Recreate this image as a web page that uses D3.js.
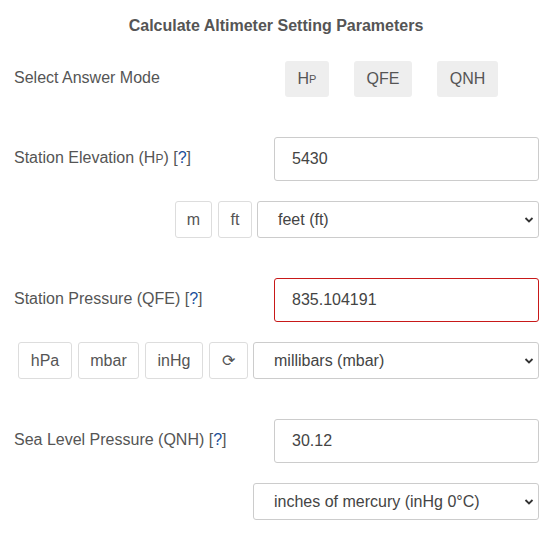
<!DOCTYPE html>
<html>
<head>
<meta charset="utf-8">
<script src="https://cdn.jsdelivr.net/npm/d3@7"></script>
<style>
  body { margin: 0; background: #fff; font-family: "Liberation Sans", Arial, sans-serif; }
  #form { position: relative; width: 552px; height: 538px; }
  .el { position: absolute; box-sizing: border-box; font-size: 16px; color: #555; }
  .lbl { white-space: nowrap; }
  .q { color: #1a4f9c; }
  .mode { background: #eeeeee; border-radius: 3px; display: flex; align-items: center; justify-content: center; }
  .btn { border: 1px solid #ddd; border-radius: 3px; display: flex; align-items: center; justify-content: center; background: #fff; }
  .inp { border: 1px solid #ccc; border-radius: 3px; padding-left: 17px; display: flex; align-items: center; color: #444; }
  .inp.err { border-color: #c81919; }
  .sel { border: 1px solid #ccc; border-radius: 3px; padding-left: 20px; display: flex; align-items: center; color: #444; }
  .sel svg { position: absolute; right: 4px; top: 50%; margin-top: -4px; }
  h3 { position: absolute; left: 0; width: 552px; top: 17px; margin: 0; text-align: center; font-size: 16px; color: #555; }
</style>
</head>
<body>
<div id="form"></div>
<script>
// content of the form
var title = "Calculate Altimeter Setting Parameters";
var modeButtons = ["H<sub style='font-size:11px;vertical-align:-1px'>P</sub>", "QFE", "QNH"];
var rowLabels = ["Station Elevation (H<span style='font-size:12px'>P</span>) [<span class='q'>?</span>]",
                 "Station Pressure (QFE) [<span class='q'>?</span>]",
                 "Sea Level Pressure (QNH) [<span class='q'>?</span>]"];
var rowValues = ["5430", "835.104191", "30.12"];
var rowErrors = [false, true, false];
var elevUnits = ["m", "ft"];
var pressUnits = ["hPa", "mbar", "inHg", "\u27F3"];
var selectTexts = ["feet (ft)", "millibars (mbar)", "inches of mercury (inHg 0°C)"];

var form = d3.select("#form");
form.append("h3").text(title);

function box(cls, x0, x1, y0, y1) {
  return form.append("div").attr("class", "el " + cls)
    .style("left", x0 + "px").style("top", y0 + "px")
    .style("width", (x1 - x0) + "px").style("height", (y1 - y0) + "px");
}

form.append("div").attr("class", "el lbl").style("left", "14px").style("top", "69px").text("Select Answer Mode");
var modeX = [[285, 329], [354, 412], [437, 498]];
modeButtons.forEach(function(t, i) { box("mode", modeX[i][0], modeX[i][1], 61, 97).html(t); });

var rowY = [137, 278, 419];
rowLabels.forEach(function(t, i) {
  form.append("div").attr("class", "el lbl").style("left", "14px").style("top", (rowY[i] + 12) + "px").html(t);
  box("inp" + (rowErrors[i] ? " err" : ""), 274, 539, rowY[i], rowY[i] + 44).text(rowValues[i]);
});

var elevX = [[175, 212], [218, 252]];
elevUnits.forEach(function(t, i) { box("btn", elevX[i][0], elevX[i][1], 201, 238).text(t); });
var pressX = [[18, 72], [78, 139], [145, 203], [209, 248]];
pressUnits.forEach(function(t, i) { box("btn", pressX[i][0], pressX[i][1], 342, 379).text(t); });

var selX = [257, 253, 253], selY = [201, 342, 483];
selectTexts.forEach(function(t, i) {
  var s = box("sel", selX[i], 539, selY[i], selY[i] + 37);
  s.append("span").text(t);
  var svg = s.append("svg").attr("width", 10).attr("height", 8);
  svg.append("path").attr("d", "M1.5,2 L5,5.5 L8.5,2").attr("fill", "none")
    .attr("stroke", "#333").attr("stroke-width", 1.8);
});
</script>
</body>
</html>
